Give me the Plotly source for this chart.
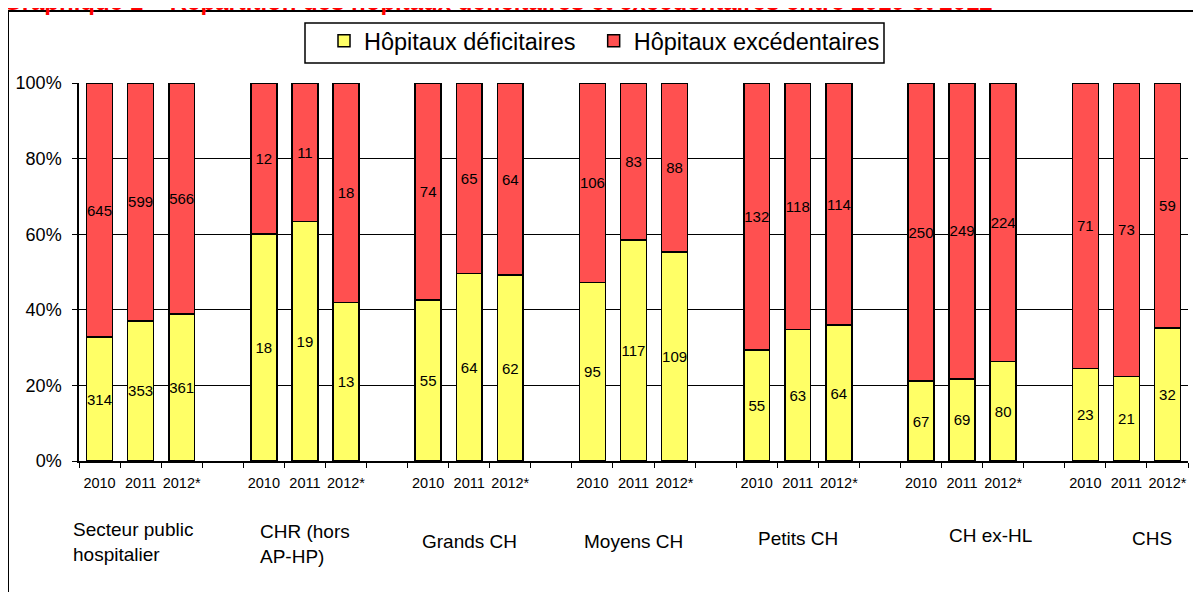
import plotly.graph_objects as go

groups = ["Secteur public hospitalier", "CHR (hors AP-HP)", "Grands CH", "Moyens CH",
          "Petits CH", "CH ex-HL", "CHS"]
group_labels = ["Secteur public<br>hospitalier", "CHR (hors<br>AP-HP)", "Grands CH", "Moyens CH",
                "Petits CH", "CH ex-HL", "CHS"]
years = ["2010", "2011", "2012*"]
series_names = ["Hôpitaux déficitaires", "Hôpitaux excédentaires"]

deficitaires = [314, 353, 361, 18, 19, 13, 55, 64, 62, 95, 117, 109,
                55, 63, 64, 67, 69, 80, 23, 21, 32]
excedentaires = [645, 599, 566, 12, 11, 18, 74, 65, 64, 106, 83, 88,
                 132, 118, 114, 250, 249, 224, 71, 73, 59]

title = "Graphique 1 – Répartition des hôpitaux déficitaires et excédentaires entre 2010 et 2012"

# styling
label_shift = [-8, 0, 0, 0, 0, 28, 26]
label_ypix = [542, 544, 541, 541, 538, 535, 538]   # page pixels
FONT = "Liberation Sans, Arial, sans-serif"
YELLOW = "#FFFF66"
RED = "#FF5050"
LEGEND_PAD = "\u00a0\u00a0"   # extra spacing after first legend entry

# the page has an 8px body margin: figure sized to fit the window
OFF = 8
W, H = 1201 - OFF, 592 - OFF
PL, PR, PT, PB = 79, 1188, 83, 461          # plot area in page pixels
L, R, T, B = PL - OFF, W - (PR - OFF), PT - OFF, H - (PB - OFF)
plot_h = H - T - B
plot_w = W - L - R


def py(p):
    """page pixel y -> paper y"""
    return ((PB - OFF) - (p - OFF)) / plot_h


def px(p):
    """page pixel x -> paper x"""
    return ((p - OFF) - L) / plot_w


# category slots: bars plus blank separators
xcats = []
categoryarray = []
ticktext = []
for gi, g in enumerate(groups):
    for y in years:
        key = f"{g}|{y}"
        xcats.append(key)
        categoryarray.append(key)
        ticktext.append(y)
    if gi < len(groups) - 1:
        categoryarray.append(f"gap{gi}")
        ticktext.append("")

fig = go.Figure()
fig.add_trace(go.Bar(
    x=xcats, y=deficitaires, name=series_names[0] + LEGEND_PAD,
    marker=dict(color=YELLOW, line=dict(color="black", width=1.5)),
    text=[str(v) for v in deficitaires], textposition="inside",
    insidetextanchor="middle", textangle=0,
    textfont=dict(family=FONT, size=15, color="black"),
))
fig.add_trace(go.Bar(
    x=xcats, y=excedentaires, name=series_names[1],
    marker=dict(color=RED, line=dict(color="black", width=1.5)),
    text=[str(v) for v in excedentaires], textposition="inside",
    insidetextanchor="middle", textangle=0,
    textfont=dict(family=FONT, size=15, color="black"),
))

annotations = []
for gi, g in enumerate(groups):
    annotations.append(dict(
        x=f"{g}|{years[1]}", xref="x", y=py(label_ypix[gi]), yref="paper",
        text=group_labels[gi], showarrow=False, align="left",
        xanchor="center", yanchor="middle", xshift=label_shift[gi],
        font=dict(family=FONT, size=19, color="black"),
    ))
annotations.append(dict(
    x=px(1), xref="paper", y=py(17), yref="paper", text=f"<b>{title}</b>",
    showarrow=False, xanchor="left", yanchor="bottom",
    font=dict(family=FONT, size=24, color="#FF0000"),
))

fig.update_layout(
    width=W, height=H,
    margin=dict(l=L, r=R, t=T, b=B, autoexpand=False),
    barmode="stack", barnorm="percent", bargap=0.37,
    paper_bgcolor="white", plot_bgcolor="white",
    font=dict(family=FONT, color="black"),
    showlegend=True,
    legend=dict(
        orientation="h", x=px(324), xanchor="left", y=py(19), yanchor="top",
        borderwidth=0, bgcolor="rgba(0,0,0,0)",
        font=dict(family=FONT, size=23.5, color="black"),
        traceorder="normal", itemclick=False,
    ),
    annotations=annotations,
    shapes=[
        dict(type="rect", xref="paper", yref="paper",
             x0=px(8), x1=px(1215), y0=py(620), y1=py(11),
             line=dict(color="black", width=2), fillcolor="rgba(0,0,0,0)",
             layer="below"),
        dict(type="rect", xref="paper", yref="paper",
             x0=px(305), x1=px(884), y0=py(63), y1=py(23),
             line=dict(color="black", width=1.5), fillcolor="white",
             layer="below"),
    ],
    uniformtext=dict(minsize=15, mode="show"),
)
fig.update_xaxes(
    type="category", categoryorder="array", categoryarray=categoryarray,
    tickmode="array", tickvals=categoryarray, ticktext=ticktext,
    tickson="boundaries", ticks="outside", ticklen=5, tickcolor="black",
    tickangle=0, ticklabelstandoff=8,
    showline=True, linecolor="black", linewidth=1.5, showgrid=False,
    tickfont=dict(family=FONT, size=14.5, color="black"),
    range=[-0.5, len(categoryarray) - 0.5],
)
fig.update_yaxes(
    range=[0, 100], dtick=20, ticksuffix="%",
    ticks="outside", ticklen=5, tickcolor="black", ticklabelstandoff=7,
    showline=True, linecolor="black", linewidth=1.5,
    showgrid=True, gridcolor="black", gridwidth=1,
    zeroline=False,
    tickfont=dict(family=FONT, size=18, color="black"),
)

fig.write_html("out.html")
